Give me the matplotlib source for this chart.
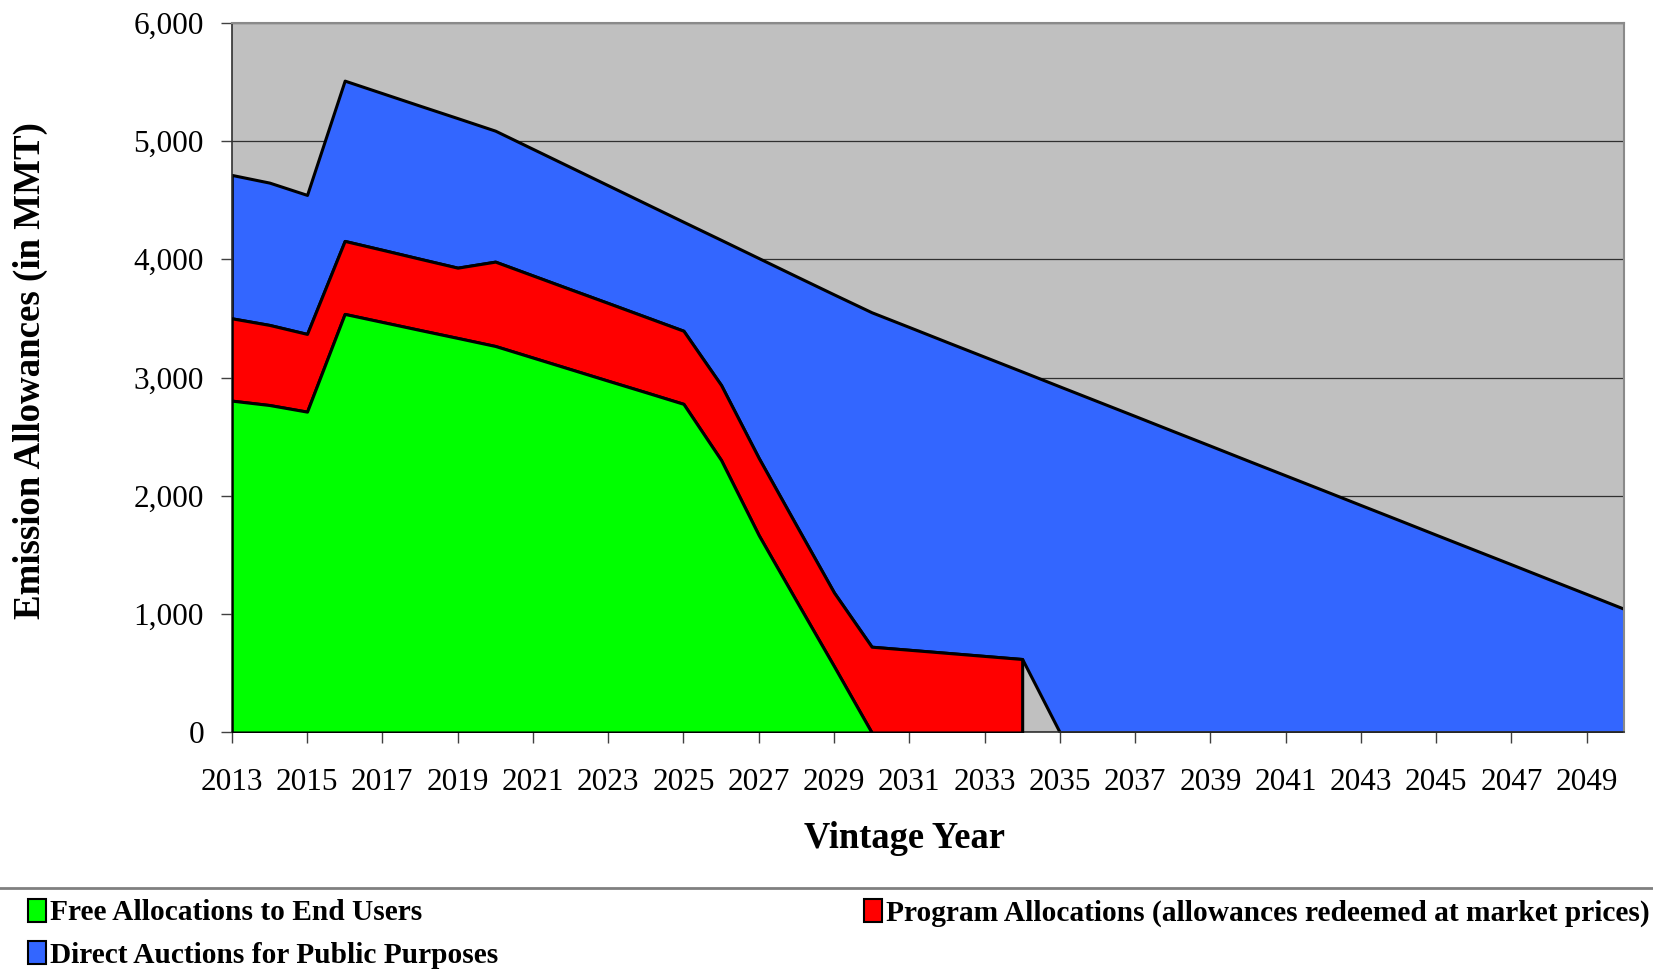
import numpy as np
import matplotlib
matplotlib.use("Agg")
import matplotlib.pyplot as plt
from matplotlib.patches import Patch
from matplotlib.lines import Line2D

years = np.arange(2013, 2051)

# allowances by vintage year (MMT)
free_alloc = [2805, 2768, 2712, 3538, 3470, 3402, 3335, 3267, 3169, 3071,
              2973, 2876, 2778, 2303, 1668, 1112, 560, 0]
program_alloc = [696, 677, 657, 617, 610, 602, 594, 713, 694, 675,
                 657, 637, 618, 634, 652, 638, 623, 725, 699, 673,
                 647, 621]
direct_auctions = [1212, 1203, 1175, 1355, 1324, 1294, 1264, 1107, 1070, 1033,
                   995, 958, 921, 1227, 1690, 2106, 2520, 2827, 2728, 2628,
                   2529, 2430, 2925, 2800, 2675, 2549, 2424, 2298, 2173, 2048,
                   1922, 1797, 1671, 1546, 1421, 1295, 1170, 1044]

labels = ["Free Allocations to End Users",
          "Program Allocations (allowances redeemed at market prices)",
          "Direct Auctions for Public Purposes"]
colors = ["#00FF00", "#FF0000", "#3366FF"]

def pad(vals):
    out = np.full(len(years), np.nan)
    out[:len(vals)] = vals
    return out

free = pad(free_alloc)
prog = pad(program_alloc)
auct = pad(direct_auctions)

plt.rcParams['font.family'] = ['Liberation Serif', 'DejaVu Serif']

fig = plt.figure(figsize=(16.53, 9.73), dpi=100)
ax = fig.add_axes([0.1402, 0.2472, 0.8425, 0.7295])
ax.set_facecolor("#C0C0C0")

lw = 2.2
# green
m = ~np.isnan(free)
ax.fill_between(years[m], 0, free[m], facecolor=colors[0], edgecolor="black",
                linewidth=lw, zorder=4)
# red, stacked on green
m = ~np.isnan(prog)
low = np.nan_to_num(free)[m]
ax.fill_between(years[m], low, low + prog[m], facecolor=colors[1],
                edgecolor="black", linewidth=lw, zorder=3)
# blue, stacked on green + red (blank cells count as zero)
low = np.nan_to_num(free) + np.nan_to_num(prog)
ax.fill_between(years, low, low + auct, facecolor=colors[2],
                edgecolor="black", linewidth=lw, zorder=2)

ax.set_xlim(2013, 2050)
ax.set_ylim(0, 6000)
ax.set_xticks(years[::2])
ax.set_xticklabels([str(y) for y in years[::2]])
ax.set_yticks(np.arange(0, 6001, 1000))
ax.set_yticklabels(["{:,}".format(v) for v in range(0, 6001, 1000)])
ax.yaxis.grid(True, color="#303030", linewidth=0.9, zorder=1)
ax.set_axisbelow(True)

ax.tick_params(axis="both", direction="out", length=8, width=1,
               color="#404040", labelsize=22.5)
ax.tick_params(axis="x", pad=17.5)
ax.tick_params(axis="y", pad=12)

for s in ["left", "bottom"]:
    ax.spines[s].set_color("#303030")
    ax.spines[s].set_linewidth(1.2)
for s in ["top", "right"]:
    ax.spines[s].set_color("#8a8a8a")
    ax.spines[s].set_linewidth(1.5)

fig.text(30 / 1653, 1 - 371 / 973, "Emission Allowances (in MMT)", rotation=90,
         ha="center", va="center", fontsize=26.6, fontweight="bold")
fig.text(904 / 1653, 1 - 838 / 973, "Vintage Year", ha="center", va="center",
         fontsize=26.3, fontweight="bold")

# separator line above the legend
fig.add_artist(Line2D([0, 1], [1 - 888 / 973, 1 - 888 / 973],
                      transform=fig.transFigure, color="#808080", linewidth=2))

def handle(c):
    return Patch(facecolor=c, edgecolor="black", linewidth=1.5)

leg_kw = dict(frameon=False, handlelength=0.6, handleheight=0.8,
              handletextpad=0.15, borderaxespad=0, borderpad=0,
              prop={"size": 21.2, "weight": "bold"})
fig.legend([handle(colors[0]), handle(colors[2])], [labels[0], labels[2]],
           loc="upper left", bbox_to_anchor=(28 / 1653, 1 - 899 / 973),
           labelspacing=0.5, **leg_kw)
fig.legend([handle(colors[1])], [labels[1]],
           loc="upper left", bbox_to_anchor=(864 / 1653, 1 - 899 / 973),
           **leg_kw)

fig.savefig("out.png", dpi=100)
